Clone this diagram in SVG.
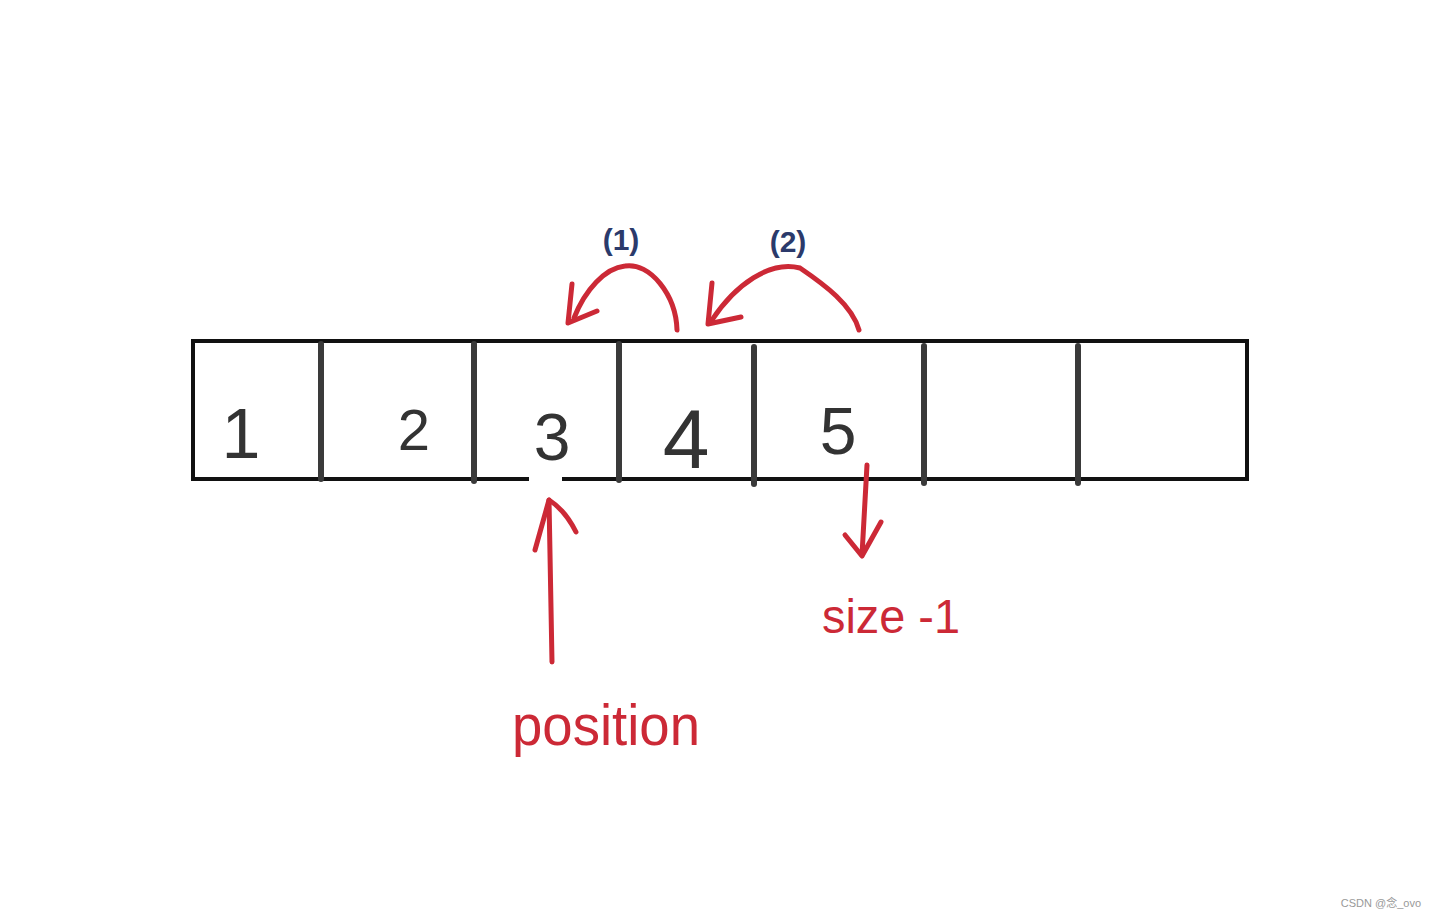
<svg xmlns="http://www.w3.org/2000/svg" width="1437" height="918" viewBox="0 0 1437 918">
<style>
.frame{fill:none;stroke:#111;stroke-width:4}
.div{stroke:#3a3a3a;stroke-width:6;stroke-linecap:round}
.red{fill:none;stroke:#cc2936;stroke-width:5;stroke-linecap:round;stroke-linejoin:round}
.num{font-family:"Liberation Sans",sans-serif;fill:#333;text-anchor:middle}
.lbl{font-family:"Liberation Sans",sans-serif;font-weight:bold;fill:#2b3a6b;font-size:30px;text-anchor:middle}
.rt{font-family:"Liberation Sans",sans-serif;fill:#cc2936}
</style>
<rect width="1437" height="918" fill="#fff"/>
<g id="array">
<path class="frame" d="M529 479 H193 V341 H1247 V479 H562"/>
<line class="div" x1="321" y1="344" x2="321" y2="479"/>
<line class="div" x1="474" y1="344" x2="474" y2="481"/>
<line class="div" x1="619" y1="344" x2="619" y2="480"/>
<line class="div" x1="754" y1="347" x2="754" y2="484"/>
<line class="div" x1="924" y1="346" x2="924" y2="483"/>
<line class="div" x1="1078" y1="346" x2="1078" y2="483"/>
</g>
<g id="cells">
<text class="num" x="241" y="458" font-size="70">1</text>
<text class="num" x="414" y="450" font-size="58">2</text>
<text class="num" x="552" y="460" font-size="66">3</text>
<text class="num" x="686" y="468" font-size="84">4</text>
<text class="num" x="838" y="454" font-size="66">5</text>
</g>
<g id="connectors">
<path class="red" d="M677 330 C676 295 650 262 625 266 C605 268 585 290 574 318"/>
<path class="red" d="M572 284 L568 323 L597 311"/>
<path class="red" d="M859 330 C852 305 825 285 800 268 C770 260 735 285 712 320"/>
<path class="red" d="M712 283 L708 324 L741 317"/>
<path class="red" d="M552 662 L549 500"/>
<path class="red" d="M535 550 L549 500 Q565 510 576 532"/>
<path class="red" d="M867 465 L862 555"/>
<path class="red" d="M845 535 L862 556 L881 522"/>
</g>
<g id="labels">
<text class="lbl" x="621" y="250">(1)</text>
<text class="lbl" x="788" y="252">(2)</text>
<text class="rt" x="512" y="745" font-size="58" textLength="188" lengthAdjust="spacingAndGlyphs">position</text>
<text class="rt" x="822" y="633" font-size="48" textLength="138" lengthAdjust="spacingAndGlyphs">size -1</text>
</g>
<text x="1421" y="907" font-family="Liberation Sans, Noto Sans CJK SC, sans-serif" font-size="11" fill="#999" text-anchor="end">CSDN @念_ovo</text>
</svg>
